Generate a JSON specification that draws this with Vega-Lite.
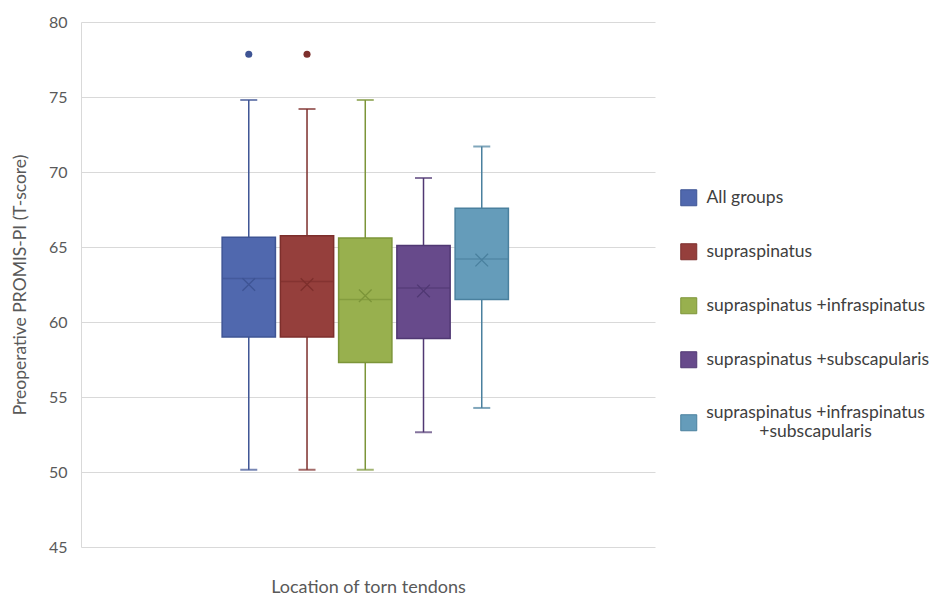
{
  "$schema": "https://vega.github.io/schema/vega-lite/v6.json",
  "width": 574,
  "height": 525,
  "autosize": {"type": "none"},
  "padding": {"left": 81, "top": 22, "right": 280, "bottom": 49},
  "background": "white",
  "config": {
    "font": "Lato",
    "view": {"stroke": null},
    "axis": {"labelFont": "Lato", "titleFont": "Lato", "labelColor": "#595959", "titleColor": "#595959", "titleFontWeight": "normal"}
  },
  "datasets": {
    "boxes": [
      {"group": "All groups", "min": 50.15, "q1": 59.0, "median": 62.9, "q3": 65.65, "max": 74.8, "mean": 62.5},
      {"group": "supraspinatus", "min": 50.15, "q1": 59.0, "median": 62.7, "q3": 65.75, "max": 74.2, "mean": 62.5},
      {"group": "supraspinatus +infraspinatus", "min": 50.15, "q1": 57.3, "median": 61.5, "q3": 65.6, "max": 74.8, "mean": 61.75},
      {"group": "supraspinatus +subscapularis", "min": 52.65, "q1": 58.9, "median": 62.27, "q3": 65.1, "max": 69.6, "mean": 62.07},
      {"group": "supraspinatus +infraspinatus +subscapularis", "min": 54.27, "q1": 61.5, "median": 64.2, "q3": 67.58, "max": 71.7, "mean": 64.13}
    ],
    "outliers": [
      {"group": "All groups", "value": 77.85},
      {"group": "supraspinatus", "value": 77.85}
    ]
  },
  "layer": [
    {
      "data": {"name": "boxes"},
      "mark": {"type": "rule", "strokeWidth": 1.5},
      "encoding": {
        "x": {"field": "group", "type": "nominal", "sort": null,
              "scale": {"domain": ["_a", "_b", "All groups", "supraspinatus", "supraspinatus +infraspinatus", "supraspinatus +subscapularis", "supraspinatus +infraspinatus +subscapularis", "_c", "_d"],
                        "paddingInner": 0.085, "paddingOuter": 0.47, "align": 0.45},
              "axis": {"labels": false, "ticks": false, "domain": false, "title": "Location of torn tendons", "titleFontSize": 18, "titlePadding": 31}},
        "y": {"field": "min", "type": "quantitative",
              "scale": {"domain": [45, 80], "nice": false, "zero": false},
              "axis": {"values": [45, 50, 55, 60, 65, 70, 75, 80], "ticks": false, "labelFontSize": 16, "labelPadding": 14, "gridColor": "#d9d9d9", "domainColor": "#d9d9d9", "title": "Preoperative PROMIS-PI (T-score)", "titleFontSize": 17.5, "titlePadding": 19}},
        "y2": {"field": "max"},
        "color": {"field": "group", "type": "nominal", "sort": null, "legend": null,
                  "scale": {"range": ["#3E5494", "#7D2F2C", "#7C9539", "#503873", "#4A809E"]}}
      }
    },
    {
      "data": {"name": "boxes"},
      "mark": {"type": "tick", "thickness": 2, "size": 17},
      "encoding": {
        "x": {"field": "group", "type": "nominal", "sort": null},
        "y": {"field": "min", "type": "quantitative"},
        "color": {"field": "group", "type": "nominal", "sort": null, "legend": null}
      }
    },
    {
      "data": {"name": "boxes"},
      "mark": {"type": "tick", "thickness": 2, "size": 17},
      "encoding": {
        "x": {"field": "group", "type": "nominal", "sort": null},
        "y": {"field": "max", "type": "quantitative"},
        "color": {"field": "group", "type": "nominal", "sort": null, "legend": null}
      }
    },
    {
      "data": {"name": "boxes"},
      "mark": {"type": "bar", "strokeWidth": 1.5},
      "encoding": {
        "x": {"field": "group", "type": "nominal", "sort": null},
        "y": {"field": "q1", "type": "quantitative"},
        "y2": {"field": "q3"},
        "fill": {"field": "group", "type": "nominal", "sort": null,
                 "scale": {"range": ["#5068AE", "#953F3C", "#98B04E", "#674A8B", "#659CBA"]},
                 "legend": {"title": null, "orient": "none", "legendX": 599, "legendY": 167,
                            "symbolType": "square", "symbolSize": 256, "symbolStrokeWidth": 1,
                            "labelFontSize": 17.5, "labelColor": "#404040", "labelLimit": 300, "labelOffset": 9,
                            "rowPadding": 33,
                            "labelExpr": "datum.label == 'supraspinatus +infraspinatus +subscapularis' ? ['supraspinatus +infraspinatus', '+subscapularis'] : datum.label",
                            "encode": {"labels": {"update": {"dy": {"signal": "datum.index == 4 ? -10 : 0"}, "dx": {"signal": "datum.index == 4 ? 109 : 0"}, "align": {"signal": "datum.index == 4 ? 'center' : 'left'"}}}}}},
        "stroke": {"field": "group", "type": "nominal", "sort": null,
                   "scale": {"range": ["#3E5494", "#7D2F2C", "#7C9539", "#503873", "#4A809E"]}}
      }
    },
    {
      "data": {"name": "boxes"},
      "mark": {"type": "tick", "thickness": 1.5, "size": 53},
      "encoding": {
        "x": {"field": "group", "type": "nominal", "sort": null},
        "y": {"field": "median", "type": "quantitative"},
        "color": {"field": "group", "type": "nominal", "sort": null, "legend": null}
      }
    },
    {
      "data": {"name": "boxes"},
      "mark": {"type": "point", "shape": "M-1,-1L1,1M-1,1L1,-1", "filled": false, "size": 160, "strokeWidth": 1.3, "opacity": 1},
      "encoding": {
        "x": {"field": "group", "type": "nominal", "sort": null},
        "y": {"field": "mean", "type": "quantitative"},
        "color": {"field": "group", "type": "nominal", "sort": null, "legend": null}
      }
    },
    {
      "data": {"name": "outliers"},
      "mark": {"type": "circle", "size": 50, "opacity": 1},
      "encoding": {
        "x": {"field": "group", "type": "nominal", "sort": null},
        "y": {"field": "value", "type": "quantitative"},
        "color": {"field": "group", "type": "nominal", "sort": null, "legend": null}
      }
    }
  ]
}
